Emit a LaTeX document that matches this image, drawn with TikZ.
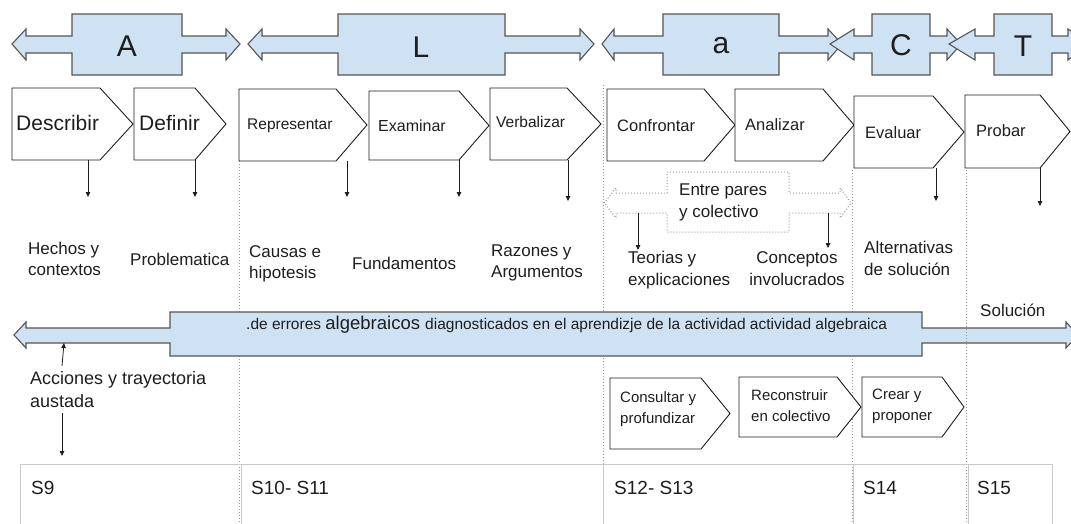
\documentclass[tikz,border=0pt]{standalone}
\usepackage{fontspec}
\setmainfont{Liberation Sans}
\usetikzlibrary{arrows.meta}
\definecolor{lblue}{HTML}{CFE2F3}
\definecolor{bord}{HTML}{555555}
\definecolor{ink}{HTML}{1E1E1E}
\definecolor{dotc}{HTML}{9A9A9A}
\definecolor{tabc}{HTML}{C8C8C8}
\tikzset{
  calloutbox/.style={fill=lblue, draw=bord, line width=1.1pt, line join=miter},
  dotcallout/.style={fill=white, draw=dotc, dotted, line width=1pt},
  pentbox/.style={draw=ink, line width=0.9pt, fill=white, line join=miter},
  dotline/.style={draw=dotc, dotted, line width=1pt},
  downarrow/.style={draw=ink, line width=0.8pt, -{Triangle[length=5pt,width=4.5pt]}},
  tabline/.style={draw=tabc, line width=1pt},
  lbl/.style={inner sep=0pt, text=ink, align=left},
  big/.style={inner sep=0pt, text=ink, font=\fontsize{30}{34}\selectfont},
}
% callout: [style] tipL headL boxL boxR headR tipR ; y values from \ym \bt \bb \st \sb \ht \hb
\newcommand\callout[7][calloutbox]{\path[#1] (#2,\ym) -- (#3,\ht) -- (#3,\st) -- (#4,\st) -- (#4,\bt) -- (#5,\bt) -- (#5,\st) -- (#6,\st) -- (#6,\ht) -- (#7,\ym) -- (#6,\hb) -- (#6,\sb) -- (#5,\sb) -- (#5,\bb) -- (#4,\bb) -- (#4,\sb) -- (#3,\sb) -- (#3,\hb) -- cycle;}
% pentagon: xL yT xFlat xTip yB
\newcommand\pent[5]{\path[pentbox] (#1,#2) -- (#3,#2) -- (#4,{(#2+#5)/2}) -- (#3,#5) -- (#1,#5) -- cycle;}
\begin{document}
\begin{tikzpicture}[x=1pt,y=-1pt]
\useasboundingbox (0,0) rectangle (1071,523);
\clip (0,0) rectangle (1071,523);
\fill[white] (0,0) rectangle (1071,523);

% dotted separators
\coordinate (d1t) at (239,161); \coordinate (d1b) at (239,530);
\coordinate (d2t) at (603,85);  \coordinate (d2b) at (603,530);
\coordinate (d3t) at (852,170); \coordinate (d3b) at (852,530);
\coordinate (d4t) at (966,170); \coordinate (d4b) at (966,530);
\draw[dotline] (d1t) -- (d1b);
\draw[dotline] (d2t) -- (d2b);
\draw[dotline] (d3t) -- (d3b);
\draw[dotline] (d4t) -- (d4b);

% table
\coordinate (t0) at (20,464); \coordinate (t5) at (1052,464);
\draw[tabline] (20,530) -- (t0) -- (t5) -- (1052,530);
\foreach \x in {241,603,853,968} \draw[tabline] (\x,464) -- (\x,530);

% top row of double arrows
\def\ym{44}\def\bt{14}\def\bb{75}\def\st{36}\def\sb{53}\def\ht{29}\def\hb{60}
\callout{12}{26}{72}{182}{226}{240}
\callout{248}{262}{338}{505}{580}{594}
\callout{602}{614}{663}{779}{828}{842}
\callout{830}{854}{872}{930}{947}{961}
\callout{949}{975}{994}{1052}{1068}{1090}
\node[big] (tA) at (127,56) {A};
\node[big] (tL) at (421,57) {L};
\node[big] (ta) at (721,54) {a};
\node[big] (tC) at (901,56) {C};
\node[big] (tT) at (1023,56) {T};

% pentagons row
\pent{12}{88}{100}{133}{160}
\pent{134}{88}{195}{226}{160}
\pent{239}{89}{336}{367}{161}
\pent{369}{91}{459}{489}{160}
\pent{490}{88}{567}{601}{160}
\pent{607}{89}{704}{735}{161}
\pent{735}{89}{823}{854}{161}
\pent{854}{96}{933}{964}{168}
\pent{965}{95}{1040}{1070}{168}
\node[lbl, anchor=west, font=\fontsize{21}{25}\selectfont] (des) at (16,131) {Describir};
\node[lbl, anchor=west, font=\fontsize{21}{25}\selectfont] (def) at (139,131) {Definir};
\node[lbl, anchor=west, font=\fontsize{15.5}{18}\selectfont] (rep) at (247,131.5) {Representar};
\node[lbl, anchor=west, font=\fontsize{16}{19}\selectfont] (exa) at (378,131.5) {Examinar};
\node[lbl, anchor=west, font=\fontsize{15.5}{18}\selectfont] (ver) at (496,127.5) {Verbalizar};
\node[lbl, anchor=west, font=\fontsize{16.5}{19}\selectfont] (con) at (617,132) {Confrontar};
\node[lbl, anchor=west, font=\fontsize{16.5}{19}\selectfont] (ana) at (745,131) {Analizar};
\node[lbl, anchor=west, font=\fontsize{16.5}{19}\selectfont] (eva) at (865,139) {Evaluar};
\node[lbl, anchor=west, font=\fontsize{16.5}{19}\selectfont] (pro) at (976,137) {Probar};

% down arrows from pentagons
\coordinate (a1s) at (88,160);   \coordinate (a1e) at (88,197);
\coordinate (a2s) at (195,160);  \coordinate (a2e) at (195,197);
\coordinate (a3s) at (347,161);  \coordinate (a3e) at (347,197);
\coordinate (a4s) at (459,160);  \coordinate (a4e) at (459,197);
\coordinate (a5s) at (568,160);  \coordinate (a5e) at (568,201);
\coordinate (a6s) at (936,168);  \coordinate (a6e) at (936,201);
\coordinate (a7s) at (1040,168); \coordinate (a7e) at (1040,206);
\foreach \i in {1,...,7} \draw[downarrow] (a\i s) -- (a\i e);

% Entre pares callout
\def\ym{203}\def\bt{172}\def\bb{232}\def\st{193}\def\sb{213}\def\ht{188}\def\hb{218}
\callout[dotcallout]{604}{616}{667}{789}{840}{851}
\node[lbl, anchor=west, font=\fontsize{17}{22}\selectfont] (ent) at (679,219) {Entre pares\\y colectivo};
\coordinate (e1s) at (638,213); \coordinate (e1e) at (638,250);
\coordinate (e2s) at (828,213); \coordinate (e2e) at (828,248);

% labels row
\node[lbl, anchor=west, font=\fontsize{17}{21}\selectfont] (hec) at (28,276) {Hechos y\\contextos};
\node[lbl, anchor=west, font=\fontsize{17}{21}\selectfont] (prb) at (130,266) {Problematica};
\node[lbl, anchor=west, font=\fontsize{17}{21}\selectfont] (cau) at (249,280) {Causas e\\hipotesis};
\node[lbl, anchor=west, font=\fontsize{17}{21}\selectfont] (fun) at (352,270) {Fundamentos};
\node[lbl, anchor=west, font=\fontsize{17}{21}\selectfont] (raz) at (491,279) {Razones y\\Argumentos};
\node[lbl, anchor=west, font=\fontsize{17}{22}\selectfont] (teo) at (628,287) {Teorias y\\explicaciones};
\node[lbl, anchor=center, align=center, font=\fontsize{17}{22}\selectfont] (cpt) at (797,286) {Conceptos\\involucrados};
\node[lbl, anchor=west, font=\fontsize{17}{22}\selectfont] (alt) at (864,276) {Alternativas\\de solución};
\draw[downarrow] (e1s) -- (e1e);
\draw[downarrow] (e2s) -- (e2e);

% big bar arrow
\def\ym{335}\def\bt{312}\def\bb{356}\def\st{328}\def\sb{343}\def\ht{322}\def\hb{348}
\callout{14}{26}{170}{922}{1066}{1078}
\coordinate (d4m) at (966,326); \coordinate (d4n) at (966,346);
\draw[dotline] (d4m) -- (d4n);
\node[lbl, anchor=west] (bar) at (246,331) {\fontsize{15.5}{17}\selectfont .de errores \fontsize{18.5}{20}\selectfont algebraicos \fontsize{15.5}{17}\selectfont diagnosticados en el aprendizje de la actividad actividad algebraica};
\node[lbl, anchor=west, font=\fontsize{17}{21}\selectfont] (sol) at (980,317) {Solución};

% Acciones
\node[lbl, anchor=west, font=\fontsize{18}{23}\selectfont] (acc) at (30,408) {Acciones y trayectoria\\austada};
\coordinate (u1s) at (62,366); \coordinate (u1e) at (64,343);
\coordinate (u2s) at (62,413); \coordinate (u2e) at (62,456);
\draw[downarrow] (u1s) -- (u1e);
\draw[downarrow] (u2s) -- (u2e);

% lower pentagons
\pent{610}{378}{701}{730}{449}
\pent{739}{377}{837}{861}{437}
\pent{862}{377}{942}{964}{437}
\node[lbl, anchor=west, font=\fontsize{15}{21}\selectfont] (cns) at (620,425) {Consultar y\\profundizar};
\node[lbl, anchor=west, font=\fontsize{15}{21}\selectfont] (rec) at (751,422) {Reconstruir\\en colectivo};
\node[lbl, anchor=west, font=\fontsize{15}{21}\selectfont] (cre) at (872,422) {Crear y\\proponer};

% table labels
\node[lbl, anchor=west, font=\fontsize{19}{22}\selectfont] (s9) at (31,495) {S9};
\node[lbl, anchor=west, font=\fontsize{19}{22}\selectfont] (s10) at (251,495) {S10- S11};
\node[lbl, anchor=west, font=\fontsize{19}{22}\selectfont] (s12) at (614,495) {S12- S13};
\node[lbl, anchor=west, font=\fontsize{19}{22}\selectfont] (s14) at (863,495) {S14};
\node[lbl, anchor=west, font=\fontsize{19}{22}\selectfont] (s15) at (977,495) {S15};
\end{tikzpicture}
\end{document}
